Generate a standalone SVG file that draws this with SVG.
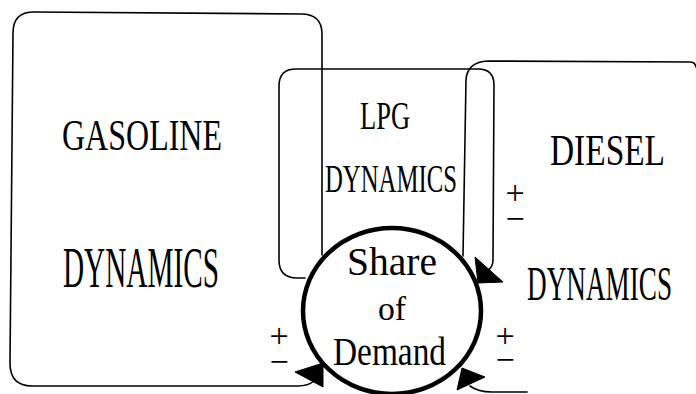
<svg xmlns="http://www.w3.org/2000/svg" width="696" height="394" viewBox="0 0 696 394">
  <style>
    .edge { fill: none; stroke: #000; stroke-width: 1.6; stroke-linecap: round; stroke-linejoin: round; }
    .ring { fill: none; stroke: #000; stroke-width: 4.5; }
    .head { fill: #000; stroke: #000; stroke-width: 1; stroke-linejoin: round; }
    .lbl { font-family: "Liberation Serif", "Times New Roman", serif; fill: #000; }
    .sign { font-family: "Liberation Serif", "Times New Roman", serif; font-size: 34px; fill: #000; text-anchor: middle; }
  </style>
  <rect width="696" height="394" fill="#fff"/>

  <!-- Gasoline sector: outline runs out of and back into the share circle -->
  <g id="gasoline">
    <path class="edge" d="M322,255 L322,34 Q322,14 301,14 L34,12 Q13,12 13,33 L10,363 Q10,386 32,386 L298,386 Q308,386 314,381"/>
    <text class="lbl" x="62" y="150" font-size="45" textLength="160" lengthAdjust="spacingAndGlyphs">GASOLINE</text>
    <text class="lbl" x="63" y="287" font-size="58" textLength="156" lengthAdjust="spacingAndGlyphs">DYNAMICS</text>
  </g>

  <!-- LPG sector -->
  <g id="lpg">
    <path class="edge" d="M305,278 L297,278 Q279,278 279,260 L279,86 Q279,69 296,69 L478,69 Q494,69 494,85 L493,260 Q493,267 488,270"/>
    <text class="lbl" x="360" y="129" font-size="41" textLength="50" lengthAdjust="spacingAndGlyphs">LPG</text>
    <text class="lbl" x="325" y="192" font-size="41" textLength="132" lengthAdjust="spacingAndGlyphs">DYNAMICS</text>
  </g>

  <!-- Diesel sector (extends past the right edge) -->
  <g id="diesel">
    <path class="edge" d="M463,256 L466,80 Q467,62 488,61 L690,62 Q695,62 696,67"/>
    <path class="edge" d="M470,386 Q478,392 492,392 L527,392"/>
    <text class="lbl" x="550" y="165" font-size="44" textLength="115" lengthAdjust="spacingAndGlyphs">DIESEL</text>
    <text class="lbl" x="527" y="300" font-size="48" textLength="145" lengthAdjust="spacingAndGlyphs">DYNAMICS</text>
  </g>

  <!-- Central share-of-demand node -->
  <g id="share">
    <ellipse class="ring" cx="392" cy="311" rx="89" ry="83"/>
    <text class="lbl" x="347" y="275" font-size="41" textLength="90" lengthAdjust="spacingAndGlyphs">Share</text>
    <text class="lbl" x="378" y="320" font-size="34" textLength="28" lengthAdjust="spacingAndGlyphs">of</text>
    <text class="lbl" x="333" y="365" font-size="39" textLength="113" lengthAdjust="spacingAndGlyphs">Demand</text>
  </g>

  <!-- Arrowheads where the loops meet the circle, with polarity signs -->
  <g id="connectors">
    <polygon class="head" points="295,372 323,363 323,387"/>
    <polygon class="head" points="475,257 503,282 478,283"/>
    <polygon class="head" points="462,368 485,377 457,390"/>

    <text class="sign"><tspan x="279" y="347">+</tspan><tspan x="279" y="373">−</tspan></text>
    <text class="sign"><tspan x="515" y="204">+</tspan><tspan x="515" y="230">−</tspan></text>
    <text class="sign"><tspan x="505" y="347">+</tspan><tspan x="505" y="371">−</tspan></text>
  </g>
</svg>
